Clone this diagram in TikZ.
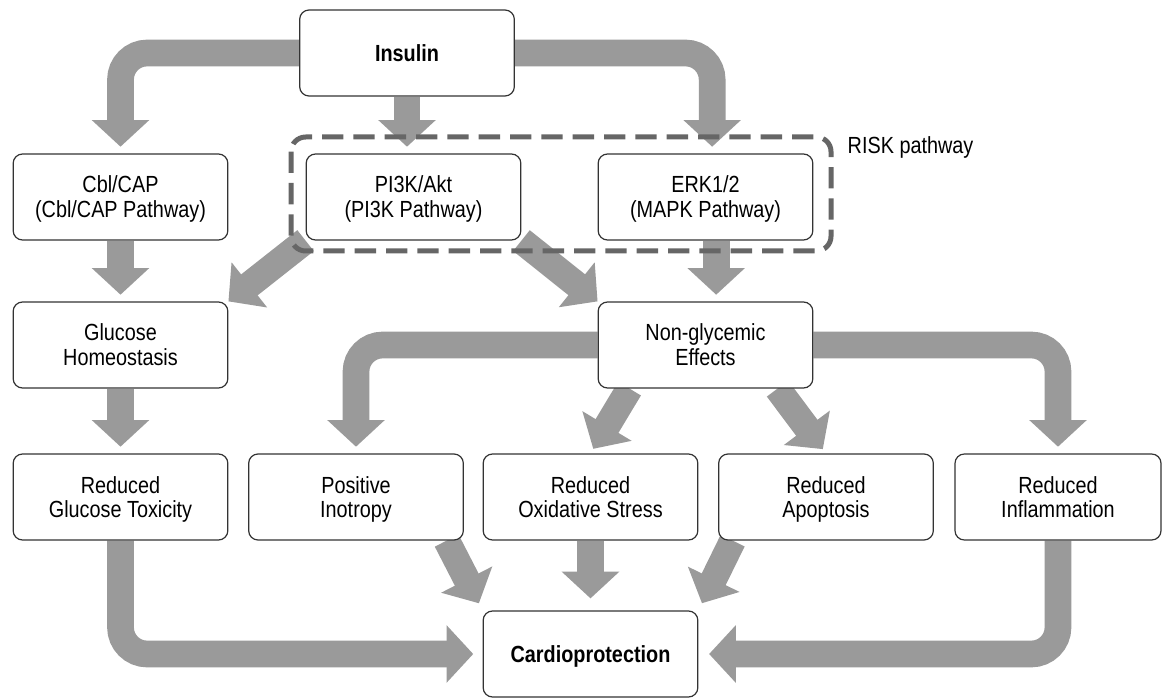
\documentclass[tikz,border=0pt]{standalone}
\usepackage{fontspec}
\setmainfont{Liberation Sans}[FakeStretch=0.85]
\usetikzlibrary{arrows.meta,backgrounds}

\definecolor{arrowgray}{HTML}{9A9A9A}
\definecolor{dashgray}{HTML}{666666}
\definecolor{boxline}{HTML}{333333}

\tikzset{
  box/.style={draw=boxline, line width=0.9pt, fill=white, rounded corners=7pt,
    align=center, minimum width=161pt, minimum height=64.5pt, inner sep=2pt,
    text height=35pt, text depth=4pt,
    font=\fontsize{17.5}{18.5}\selectfont},
  onebox/.style={box, text height=16.5pt, text depth=4pt},
  flow/.style={draw=arrowgray, line width=20pt, rounded corners=20pt,
    -{Triangle[length=20pt,width=42pt]}, shorten >=5pt},
  riskbox/.style={draw=dashgray, line width=3.75pt, rounded corners=11pt,
    dash pattern=on 16pt off 7.5pt}
}

\begin{document}
\begin{tikzpicture}[x=0.75pt, y=-0.75pt]
    \useasboundingbox (0,0) rectangle (1163,698);

    % Boxes
    \node[onebox] (insulin) at (407,53) {\textbf{Insulin}};
    \node[box] (cbl) at (120.5,197) {Cbl/CAP\\(Cbl/CAP Pathway)};
    \node[box] (pi3k) at (413.5,197) {PI3K/Akt\\(PI3K Pathway)};
    \node[box] (erk) at (705.5,197) {ERK1/2\\(MAPK Pathway)};
    \node[box] (glucose) at (120.5,345) {Glucose\\Homeostasis};
    \node[box] (nonglyc) at (705.5,345) {Non-glycemic\\Effects};
    \node[box] (toxicity) at (120.5,497) {Reduced\\Glucose Toxicity};
    \node[box] (inotropy) at (356,497) {Positive\\Inotropy};
    \node[box] (oxid) at (590.5,497) {Reduced\\Oxidative Stress};
    \node[box] (apoptosis) at (826,497) {Reduced\\Apoptosis};
    \node[box, minimum width=154.5pt] (inflam) at (1058,497) {Reduced\\Inflammation};
    \node[onebox] (cardio) at (590.5,654) {\textbf{Cardioprotection}};

    % RISK pathway frame
    \draw[riskbox] (291,137) rectangle (831,251);
    \node[anchor=west, font=\fontsize{17.5}{18.5}\selectfont] (risklabel) at (843,147) {RISK pathway};

    % Arrows
    \begin{scope}[on background layer]
    \draw[flow] (insulin) -| (cbl.north);
    \draw[flow] (insulin.south) -- (insulin.south |- pi3k.north);
    \draw[flow] (insulin) -| ([xshift=5pt]erk.north);
    \draw[flow] (cbl.south) -- (glucose.north);
    \draw[flow, shorten >=0pt] (pi3k.south west) -- (glucose.north east);
    \draw[flow, shorten >=0pt] (pi3k.south east) -- (nonglyc.north west);
    \draw[flow] ([xshift=8pt]erk.south) -- ([xshift=8pt]nonglyc.north);
    \draw[flow] (glucose.south) -- (toxicity.north);
    \draw[flow] (nonglyc) -| (inotropy.north);
    \draw[flow] (nonglyc) -| (inflam.north);
    \draw[flow, shorten >=4pt] ([xshift=-57pt]nonglyc.south) -- (oxid.north);
    \draw[flow, shorten >=4pt] ([xshift=54pt]nonglyc.south) -- (apoptosis.north);
    \draw[flow, shorten >=7pt] (toxicity.south) |- (cardio.west);
    \draw[flow, shorten >=8pt] (inflam.south) |- (cardio.east);
    \draw[flow, shorten >=6pt] ([xshift=68pt]inotropy.south) -- (cardio.north west);
    \draw[flow, shorten >=9pt] (oxid.south) -- (cardio.north);
    \draw[flow, shorten >=6pt] ([xshift=-70pt]apoptosis.south) -- (cardio.north east);
    \end{scope}
\end{tikzpicture}
\end{document}
